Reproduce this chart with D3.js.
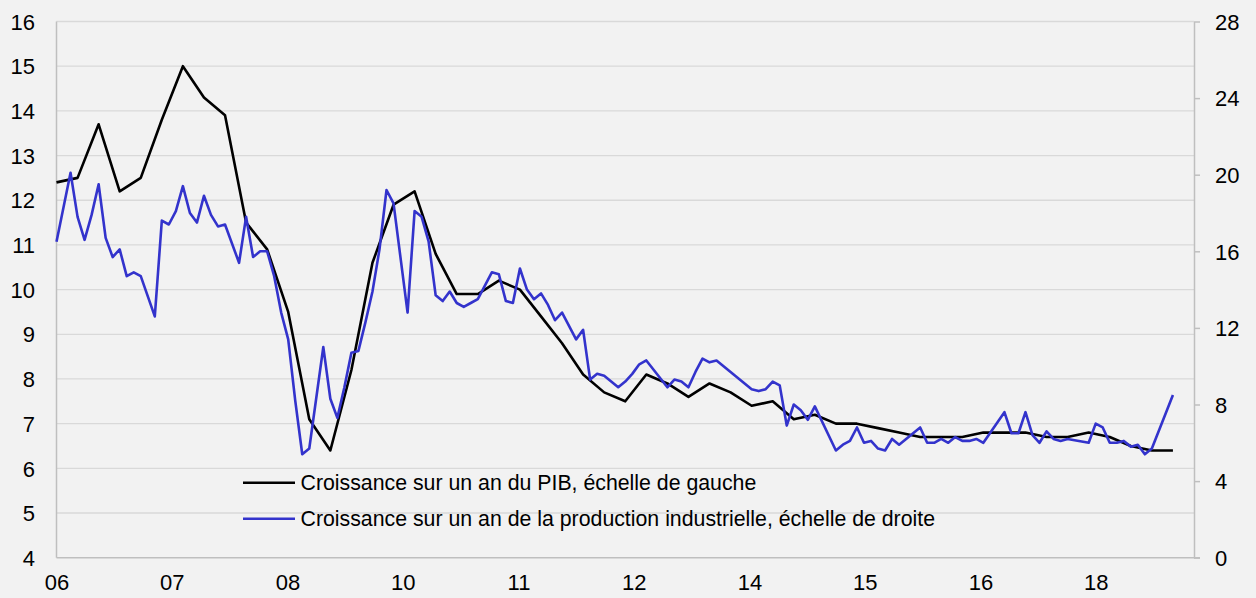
<!DOCTYPE html>
<html>
<head>
<meta charset="utf-8">
<script src="https://cdn.jsdelivr.net/npm/d3@7/dist/d3.min.js"></script>
<style>
  html, body { margin: 0; padding: 0; background: #f2f2f2; }
  svg { display: block; }
  text { font-family: Arial, "Liberation Sans", sans-serif; fill: #000; }
</style>
</head>
<body>
<svg id="chart" width="1256" height="598"></svg>
<script>
// ---- Data ----
// Monthly industrial production YoY (%), right axis; index 0 = Dec 2005, null = not published
const ipStart = "2005-12";
const ip2005 = [16.5];
const ip2006 = [null, 20.1, 17.8, 16.6, 17.9, 19.5, 16.7, 15.7, 16.1, 14.7, 14.9, 14.7];
const ip2007 = [null, 12.6, 17.6, 17.4, 18.1, 19.4, 18.0, 17.5, 18.9, 17.9, 17.3, 17.4];
const ip2008 = [null, 15.4, 17.8, 15.7, 16.0, 16.0, 14.7, 12.8, 11.4, 8.2, 5.4, 5.7];
const ip2009 = [null, 11.0, 8.3, 7.3, 8.9, 10.7, 10.8, 12.3, 13.9, 16.1, 19.2, 18.5];
const ip2010 = [null, 12.8, 18.1, 17.8, 16.5, 13.7, 13.4, 13.9, 13.3, 13.1, 13.3, 13.5];
const ip2011 = [null, 14.9, 14.8, 13.4, 13.3, 15.1, 14.0, 13.5, 13.8, 13.2, 12.4, 12.8];
const ip2012 = [null, 11.4, 11.9, 9.3, 9.6, 9.5, 9.2, 8.9, 9.2, 9.6, 10.1, 10.3];
const ip2013 = [null, null, 8.9, 9.3, 9.2, 8.9, 9.7, 10.4, 10.2, 10.3, 10.0, 9.7];
const ip2014 = [null, null, 8.8, 8.7, 8.8, 9.2, 9.0, 6.9, 8.0, 7.7, 7.2, 7.9];
const ip2015 = [null, null, 5.6, 5.9, 6.1, 6.8, 6.0, 6.1, 5.7, 5.6, 6.2, 5.9];
const ip2016 = [null, null, 6.8, 6.0, 6.0, 6.2, 6.0, 6.3, 6.1, 6.1, 6.2, 6.0];
const ip2017 = [null, null, 7.6, 6.5, 6.5, 7.6, 6.4, 6.0, 6.6, 6.2, 6.1, 6.2];
const ip2018 = [null, null, 6.0, 7.0, 6.8, 6.0, 6.0, 6.1, 5.8, 5.9, 5.4, 5.7];
const ip2019 = [null, null, 8.5];

// Quarterly GDP YoY (%), left axis; one value every 3 months starting at index 0
const gdpValues = [12.4,
  12.5, 13.7, 12.2, 12.5,
  13.8, 15.0, 14.3, 13.9,
  11.5, 10.9, 9.5, 7.1,
  6.4, 8.2, 10.6, 11.9,
  12.2, 10.8, 9.9, 9.9,
  10.2, 10.0, 9.4, 8.8,
  8.1, 7.7, 7.5, 8.1,
  7.9, 7.6, 7.9, 7.7,
  7.4, 7.5, 7.1, 7.2,
  7.0, 7.0, 6.9, 6.8,
  6.7, 6.7, 6.7, 6.8,
  6.8, 6.8, 6.7, 6.7,
  6.8, 6.7, 6.5, 6.4,
  6.4];
const gdpStep = 3; // months between GDP observations

// X axis labels and their month positions
const xTickLabels = ["06", "07", "08", "10", "11", "12", "14", "15", "16", "18"];
const xTickMonths = [0, 16.4, 32.9, 49.3, 65.8, 82.2, 98.7, 115.1, 131.6, 148];
const xDomainMonths = [0, 162];

const leftTicks = [4, 5, 6, 7, 8, 9, 10, 11, 12, 13, 14, 15, 16];
const rightTicks = [0, 4, 8, 12, 16, 20, 24, 28];

const legendLabels = [
  "Croissance sur un an du PIB, échelle de gauche",
  "Croissance sur un an de la production industrielle, échelle de droite"
];
const colors = ["#000000", "#3333cc"];

// ---- Build ----
const ipValues = [].concat(ip2005, ip2006, ip2007, ip2008, ip2009, ip2010, ip2011, ip2012,
  ip2013, ip2014, ip2015, ip2016, ip2017, ip2018, ip2019);
const ipData = ipValues.map((v, i) => ({ m: i, v })).filter(d => d.v !== null);
const gdpData = gdpValues.map((v, i) => ({ m: i * gdpStep, v }));

const L = 56.5, R = 1194, T = 21.5, B = 557.7;
const svg = d3.select("#chart");
svg.append("rect").attr("width", 1256).attr("height", 598).attr("fill", "#f2f2f2");

const x = d3.scaleLinear().domain(xDomainMonths).range([L, R]);
const yL = d3.scaleLinear().domain([4, 16]).range([B, T]);
const yR = d3.scaleLinear().domain([0, 28]).range([B, T]);

// gridlines
svg.append("g").selectAll("line").data(leftTicks.filter(d => d > 4)).join("line")
  .attr("x1", L).attr("x2", R)
  .attr("y1", d => yL(d)).attr("y2", d => yL(d))
  .attr("stroke", "#d9d9d9").attr("stroke-width", 1.3);

// left axis
const gL = svg.append("g").attr("transform", `translate(${L},0)`)
  .call(d3.axisLeft(yL).tickValues(leftTicks).tickSize(0).tickPadding(21.5).tickFormat(d3.format("d")));
gL.select(".domain").remove();
gL.selectAll("text").attr("font-size", 22).attr("dy", "0.35em");

// right axis
const gR = svg.append("g").attr("transform", `translate(${R},0)`)
  .call(d3.axisRight(yR).tickValues(rightTicks).tickSizeInner(6).tickSizeOuter(0).tickPadding(15).tickFormat(d3.format("d")));
gR.select(".domain").attr("stroke", "#bfbfbf").attr("stroke-width", 1.5);
gR.selectAll(".tick line").attr("stroke", "#bfbfbf").attr("stroke-width", 1.5);
gR.selectAll("text").attr("font-size", 22).attr("dy", "0.35em");

// bottom axis
const gB = svg.append("g").attr("transform", `translate(0,${B})`)
  .call(d3.axisBottom(x).tickValues(xTickMonths).tickSize(0).tickPadding(17)
    .tickFormat((d, i) => xTickLabels[i]));
gB.select(".domain").remove();
gB.selectAll("text").attr("font-size", 22);

// axis lines
svg.append("line").attr("x1", L).attr("x2", L).attr("y1", T).attr("y2", B)
  .attr("stroke", "#bfbfbf").attr("stroke-width", 1.5);
svg.append("line").attr("x1", L).attr("x2", R + 6).attr("y1", B).attr("y2", B)
  .attr("stroke", "#bfbfbf").attr("stroke-width", 1.5);

// lines
const lineGdp = d3.line().x(d => x(d.m)).y(d => yL(d.v));
const lineIp = d3.line().x(d => x(d.m)).y(d => yR(d.v));
svg.append("path").datum(gdpData).attr("d", lineGdp)
  .attr("fill", "none").attr("stroke", colors[0]).attr("stroke-width", 2.6).attr("stroke-linejoin", "round");
svg.append("path").datum(ipData).attr("d", lineIp)
  .attr("fill", "none").attr("stroke", colors[1]).attr("stroke-width", 2.6).attr("stroke-linejoin", "round");

// legend
const legY = [482.7, 518.7];
const leg = svg.append("g");
legendLabels.forEach((lab, i) => {
  leg.append("line").attr("x1", 243).attr("x2", 295).attr("y1", legY[i]).attr("y2", legY[i])
    .attr("stroke", colors[i]).attr("stroke-width", 2.6);
  leg.append("text").attr("x", 300.5).attr("y", legY[i]).attr("dy", "0.35em")
    .attr("font-size", 21.3).text(lab);
});
</script>
</body>
</html>
